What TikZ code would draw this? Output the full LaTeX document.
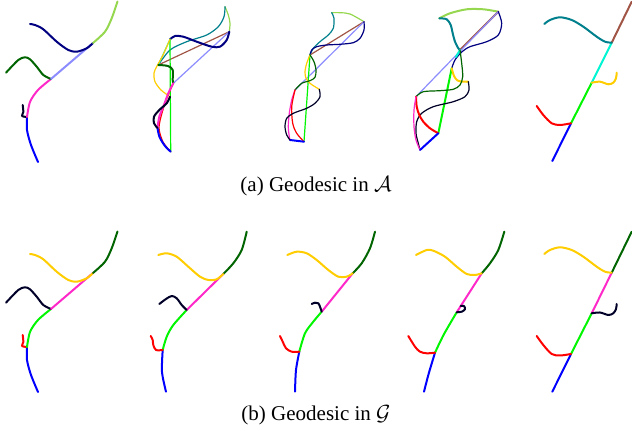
\documentclass[tikz,border=0pt]{standalone}
\usepackage{fontspec}
\setmainfont{Liberation Serif}
\usepackage{tikz}
\usetikzlibrary{calc}

\definecolor{cblue}{RGB}{0,0,255}
\definecolor{cmag}{RGB}{255,40,200}
\definecolor{cperi}{RGB}{140,140,255}
\definecolor{clime}{RGB}{150,215,80}
\definecolor{cdkgreen}{RGB}{0,100,0}
\definecolor{cnavy}{RGB}{0,0,128}
\definecolor{cblack}{RGB}{0,0,40}
\definecolor{cgreen}{RGB}{0,245,0}
\definecolor{cred}{RGB}{255,0,0}
\definecolor{cyellow}{RGB}{255,205,0}
\definecolor{ccyan}{RGB}{0,245,210}
\definecolor{cteal}{RGB}{0,128,140}
\definecolor{cbrown}{RGB}{160,85,70}

\begin{document}
\begin{tikzpicture}[
  x=0.5pt, y=-0.5pt,
  seg/.style={line width=1pt, line cap=round, line join=round},
  thinseg/.style={line width=0.6pt, line cap=round, line join=round},
  caption/.style={font=\fontsize{10.5}{12}\selectfont, inner sep=0pt},
]
  \useasboundingbox (0,0) rectangle (632,431);

  % (a) panel 1
  \coordinate (a1p0) at (38,162);  \coordinate (a1p1) at (27,117);
  \coordinate (a1p2) at (51,79);   \coordinate (a1p3) at (93,43);
  \coordinate (a1p4) at (117.5,1.5);
  \draw[seg, cblue] plot[smooth] coordinates {(a1p0) (31,145) (27,130) (a1p1)};
  \draw[seg, cblack] plot[smooth] coordinates {(a1p1) (22,116) (23.3,112) (22.7,105)};
  \draw[seg, cmag] plot[smooth] coordinates {(a1p1) (30,102) (38,90) (a1p2)};
  \draw[seg, cdkgreen] plot[smooth] coordinates {(a1p2) (43.3,75) (36.7,66.7) (30,59.3) (25,57.3) (18.3,60) (6,72.7)};
  \draw[seg, cperi] (a1p2) -- (a1p3);
  \draw[seg, cnavy] plot[smooth] coordinates {(a1p3) (86.7,48.3) (76.7,51.7) (68.3,50) (56.7,41.7) (43.3,29.3) (35,25) (30,24)};
  \draw[seg, clime] plot[smooth] coordinates {(a1p3) (105,31.7) (111.7,18.3) (a1p4)};

  % (a) panel 2
  \coordinate (a2tl) at (225,6.7);   \coordinate (a2tr) at (229.3,31.7);
  \coordinate (a2c) at (158.3,65);   \coordinate (a2ct) at (170,39.3);
  \coordinate (a2m) at (173.3,83.3); \coordinate (a2y) at (170,96.7);
  \coordinate (a2bl) at (157.5,128); \coordinate (a2br) at (170.7,151.7);
  \draw[thinseg, clime] plot[smooth] coordinates {(a2tl) (228.3,15) (230,23.3) (a2tr)};
  \draw[thinseg, cteal] plot[smooth] coordinates {(a2tl) (224,16.7) (218.3,26.7) (206.7,35) (186.7,41.7) (170,50) (a2c)};
  \draw[thinseg, cbrown] (a2tr) -- (a2c);
  \draw[thinseg, cperi] (a2tr) -- (a2m);
  \draw[seg, cnavy] plot[smooth] coordinates {(a2tr) (226.7,40) (220,46.7) (211.7,46.7) (196.7,41.7) (183.3,36.7) (175,36) (a2ct)};
  \draw[thinseg, ccyan] (a2ct) -- (a2c);
  \draw[thinseg, cgreen] (a2ct) -- (a2br);
  \draw[thinseg, cyellow] plot[smooth] coordinates {(a2ct) (163,55) (157,66) (154,73) (155,81.7) (161,90) (a2y)};
  \draw[seg, cdkgreen] plot[smooth] coordinates {(a2c) (168,66) (172.7,70) (172.7,80) (a2m)};
  \draw[thinseg, cred] plot[smooth] coordinates {(a2m) (167,98) (162,113) (159,128) (163,142) (a2br)};
  \draw[seg, cmag] plot[smooth] coordinates {(a2m) (168.3,93.3) (163.3,106.7) (159.3,116.7) (a2bl)};
  \draw[seg, cblue] plot[smooth] coordinates {(a2bl) (159.5,137) (165,146) (a2br)};
  \draw[seg, cblack] plot[smooth] coordinates {(a2y) (166.7,103.3) (159.3,110) (154,116.7) (154,123.3) (a2bl)};

  % (a) panel 3
  \coordinate (a3tl) at (331.7,12.7); \coordinate (a3tr) at (364,21.7);
  \coordinate (a3c) at (310,55);      \coordinate (a3m) at (295,90);
  \coordinate (a3y) at (319.3,89.3);  \coordinate (a3bl) at (290,140);
  \coordinate (a3br) at (304,141.7);
  \draw[thinseg, clime] plot[smooth] coordinates {(a3tl) (340,12.7) (350,14) (a3tr)};
  \draw[thinseg, cteal] plot[smooth] coordinates {(a3tl) (334,18.3) (333.3,28.3) (328.3,35) (320,41.7) (313.3,48.3) (a3c)};
  \draw[thinseg, cbrown] (a3tr) -- (a3c);
  \draw[thinseg, cperi] (a3tr) -- (a3m);
  \draw[thinseg, cnavy] plot[smooth] coordinates {(a3tr) (364,30) (360,38.3) (353.3,42.7) (340,44.3) (326.7,45) (316.7,46.7) (311.7,50) (a3c)};
  \draw[thinseg, ccyan] (a3c) -- (309,58);
  \draw[thinseg, cgreen] (a3c) -- (a3br);
  \draw[thinseg, cyellow] plot[smooth] coordinates {(a3c) (306.7,63.3) (305,71.7) (306,78.3) (310,83.3) (315,86.7) (a3y)};
  \draw[thinseg, cdkgreen] plot[smooth] coordinates {(a3c) (314,61.7) (316,70) (315,77.3) (310,80.7) (301.7,83.3) (a3m)};
  \draw[thinseg, cmag] plot[smooth] coordinates {(a3m) (291.7,100) (289.3,113.3) (288.3,126.7) (289.3,136.7) (a3bl)};
  \draw[thinseg, cred] plot[smooth] coordinates {(a3m) (291.7,106.7) (292.7,123.3) (296.7,133.3) (a3br)};
  \draw[seg, cblue] (a3bl) -- (a3br);
  \draw[thinseg, cblack] plot[smooth] coordinates {(a3y) (320,96.7) (315,103.3) (306.7,108.3) (293.3,113.3) (286.7,118.3) (285,126.7) (286.7,135) (a3bl)};

  % (a) panel 4
  \coordinate (a4tl) at (439.3,18.3); \coordinate (a4tr) at (498.3,11.7);
  \coordinate (a4c) at (460,50);      \coordinate (a4ct) at (451.7,68.3);
  \coordinate (a4m) at (416,96.7);    \coordinate (a4y) at (468.3,81.7);
  \coordinate (a4bl) at (420,150);    \coordinate (a4br) at (438.3,133.3);
  \draw[seg, clime] plot[smooth] coordinates {(a4tl) (450,13.3) (466.7,9.3) (483.3,9.3) (a4tr)};
  \draw[seg, cteal] plot[smooth] coordinates {(a4tl) (446.7,19.3) (450.7,25) (452.7,33.3) (455,41.7) (458.3,48.3) (a4c)};
  \draw[seg, cbrown] (a4tr) -- (a4c);
  \draw[thinseg, cperi] (a4tr) -- (a4m);
  \draw[thinseg, cnavy] plot[smooth] coordinates {(a4tr) (501.7,23.3) (498.3,35) (486.7,41.7) (470,46.7) (461.7,52) (455,60) (a4ct)};
  \draw[seg, ccyan] (a4c) -- (456,57);
  \draw[seg, cgreen] (a4ct) -- (a4br);
  \draw[seg, cyellow] plot[smooth] coordinates {(a4ct) (454,76) (457.5,80.5) (463.3,81.7) (a4y)};
  \draw[thinseg, cdkgreen] plot[smooth] coordinates {(a4c) (461.7,63.3) (462.7,76.7) (460,85) (453.3,89.3) (440,90.7) (423.3,91.7) (a4m)};
  \draw[thinseg, cblack] plot[smooth] coordinates {(a4y) (469,90) (465,96.7) (453.3,101.7) (433.3,106.7) (421.7,113.3) (416.7,121.7) (416,133.3) (418.3,143.3) (a4bl)};
  \draw[seg, cred] plot[smooth] coordinates {(a4m) (416.7,106.7) (419.3,115) (423.3,121.7) (430,128.3) (a4br)};
  \draw[thinseg, cmag] plot[smooth] coordinates {(a4m) (414,110) (414,126.7) (416,140) (a4bl)};
  \draw[seg, cblue] (a4bl) -- (a4br);

  % (a) panel 5
  \coordinate (a5p0) at (552.3,161);  \coordinate (a5p1) at (571,123.3);
  \coordinate (a5p2) at (591.7,82.7); \coordinate (a5p3) at (611.7,42.7);
  \coordinate (a5p4) at (631.7,1.7);
  \draw[seg, cblue] (a5p0) -- (a5p1);
  \draw[seg, cgreen] (a5p1) -- (a5p2);
  \draw[seg, ccyan] (a5p2) -- (a5p3);
  \draw[seg, cbrown] (a5p3) -- (a5p4);
  \draw[seg, cred] plot[smooth] coordinates {(a5p1) (560,125) (551.7,123.3) (543.3,115) (536.7,106)};
  \draw[seg, cyellow] plot[smooth] coordinates {(a5p2) (600,81.7) (608.3,84.3) (613.3,82.7) (616,78.3) (616.7,72.7)};
  \draw[seg, cteal] plot[smooth] coordinates {(a5p3) (605,41.7) (596.7,36.7) (583.3,26.7) (571.7,20) (560,17.3) (550,20) (544.3,24)};

  \node[caption] (capa) at (316,186) {(a) Geodesic in $\mathcal{A}$};

  % (b) panel 1
  \coordinate (b1p0) at (38,392);  \coordinate (b1p1) at (27,347);
  \coordinate (b1p2) at (51,309);  \coordinate (b1p3) at (93,273);
  \coordinate (b1p4) at (117.5,231.5);
  \draw[seg, cblue] plot[smooth] coordinates {(b1p0) (31,375) (27,360) (b1p1)};
  \draw[seg, cred] plot[smooth] coordinates {(b1p1) (22,346) (23.3,342) (22.7,335)};
  \draw[seg, cgreen] plot[smooth] coordinates {(b1p1) (30,332) (38,320) (b1p2)};
  \draw[seg, cblack] plot[smooth] coordinates {(b1p2) (43.3,305) (36.7,296.7) (30,289.3) (25,287.3) (18.3,290) (6,302.7)};
  \draw[seg, cmag] (b1p2) -- (b1p3);
  \draw[seg, cyellow] plot[smooth] coordinates {(b1p3) (86.7,278.3) (76.7,281.7) (68.3,280) (56.7,271.7) (43.3,259.3) (35,255) (30,254)};
  \draw[seg, cdkgreen] plot[smooth] coordinates {(b1p3) (105,261.7) (111.7,248.3) (b1p4)};

  % (b) panel 2
  \coordinate (b2p0) at (166,391.7);   \coordinate (b2p1) at (162.7,350);
  \coordinate (b2p2) at (186.7,310);   \coordinate (b2p3) at (223.3,274);
  \coordinate (b2p4) at (246.7,231.7);
  \draw[seg, cblue] plot[smooth] coordinates {(b2p0) (162,372) (b2p1)};
  \draw[seg, cgreen] plot[smooth] coordinates {(b2p1) (166.7,336.7) (173.3,325) (b2p2)};
  \draw[seg, cmag] (b2p2) -- (b2p3);
  \draw[seg, cdkgreen] plot[smooth] coordinates {(b2p3) (233.3,263.3) (241.7,250) (b2p4)};
  \draw[seg, cred] plot[smooth] coordinates {(b2p1) (156,350) (153.3,345) (152.7,340) (150.7,336)};
  \draw[seg, cblack] plot[smooth] coordinates {(b2p2) (181.7,305) (176.7,298.3) (171.7,296) (166,299) (159.3,304)};
  \draw[seg, cyellow] plot[smooth] coordinates {(b2p3) (216.7,279.3) (208.3,280) (200,276.7) (188.3,266.7) (176.7,256.7) (166.7,253.3) (158.3,255)};

  % (b) panel 3
  \coordinate (b3p0) at (295,391.7);   \coordinate (b3p1) at (299.3,351.7);
  \coordinate (b3p2) at (321.7,311.7); \coordinate (b3p3) at (352.7,273.3);
  \coordinate (b3p4) at (375,231.7);
  \draw[seg, cblue] plot[smooth] coordinates {(b3p0) (296,370) (b3p1)};
  \draw[seg, cgreen] plot[smooth] coordinates {(b3p1) (305,333.3) (313.3,321.7) (b3p2)};
  \draw[seg, cmag] (b3p2) -- (b3p3);
  \draw[seg, cdkgreen] plot[smooth] coordinates {(b3p3) (361.7,263.3) (370,248.3) (b3p4)};
  \draw[seg, cred] plot[smooth] coordinates {(b3p1) (291.7,351.7) (286,348.3) (282.7,341.7) (280,336)};
  \draw[seg, cblack] plot[smooth] coordinates {(b3p2) (320,306.7) (318.3,303.3) (315,302.7) (311.7,304)};
  \draw[seg, cyellow] plot[smooth] coordinates {(b3p3) (346.7,276.7) (338.3,276.7) (328.3,270) (316.7,260) (306.7,253.3) (296.7,251.7) (287.3,255)};

  % (b) panel 4
  \coordinate (b4p0) at (424,391.7);   \coordinate (b4p1) at (435,352.7);
  \coordinate (b4p2) at (456.7,312.3); \coordinate (b4p3) at (481.7,273.3);
  \coordinate (b4p4) at (504.3,231.7);
  \draw[seg, cblue] plot[smooth] coordinates {(b4p0) (428.8,373.3) (b4p1)};
  \draw[seg, cgreen] plot[smooth] coordinates {(b4p1) (443.8,334.5) (b4p2)};
  \draw[seg, cmag] (b4p2) -- (b4p3);
  \draw[seg, cdkgreen] plot[smooth] coordinates {(b4p3) (490,263.3) (498.3,250) (b4p4)};
  \draw[seg, cred] plot[smooth] coordinates {(b4p1) (426.7,353.3) (420,351.7) (415,346.7) (408.3,336)};
  \draw[seg, cblack] plot[smooth] coordinates {(b4p2) (461.7,311.7) (465,309.3) (464,306) (460.7,306)};
  \draw[seg, cyellow] plot[smooth] coordinates {(b4p3) (475,275) (466.7,274) (456.7,266.7) (445,256.7) (433.3,250.7) (426.7,250) (416,255)};

  % (b) panel 5
  \coordinate (b5p0) at (552.3,391.7); \coordinate (b5p1) at (571,354);
  \coordinate (b5p2) at (591.7,313.3); \coordinate (b5p3) at (611.7,272.7);
  \coordinate (b5p4) at (631.7,231.7);
  \draw[seg, cblue] (b5p0) -- (b5p1);
  \draw[seg, cgreen] (b5p1) -- (b5p2);
  \draw[seg, cmag] (b5p2) -- (b5p3);
  \draw[seg, cdkgreen] (b5p3) -- (b5p4);
  \draw[seg, cred] plot[smooth] coordinates {(b5p1) (560,355.5) (551.7,354) (543.3,345) (536.7,336)};
  \draw[seg, cblack] plot[smooth] coordinates {(b5p2) (600,312.5) (608.3,315) (613.3,313.3) (616,309) (616.7,304)};
  \draw[seg, cyellow] plot[smooth] coordinates {(b5p3) (605,271.7) (596.7,266.7) (583.3,256.7) (571.7,250) (560,247.3) (550,250) (544.3,254)};

  \node[caption] (capb) at (316,415) {(b) Geodesic in $\mathcal{G}$};
\end{tikzpicture}
\end{document}
